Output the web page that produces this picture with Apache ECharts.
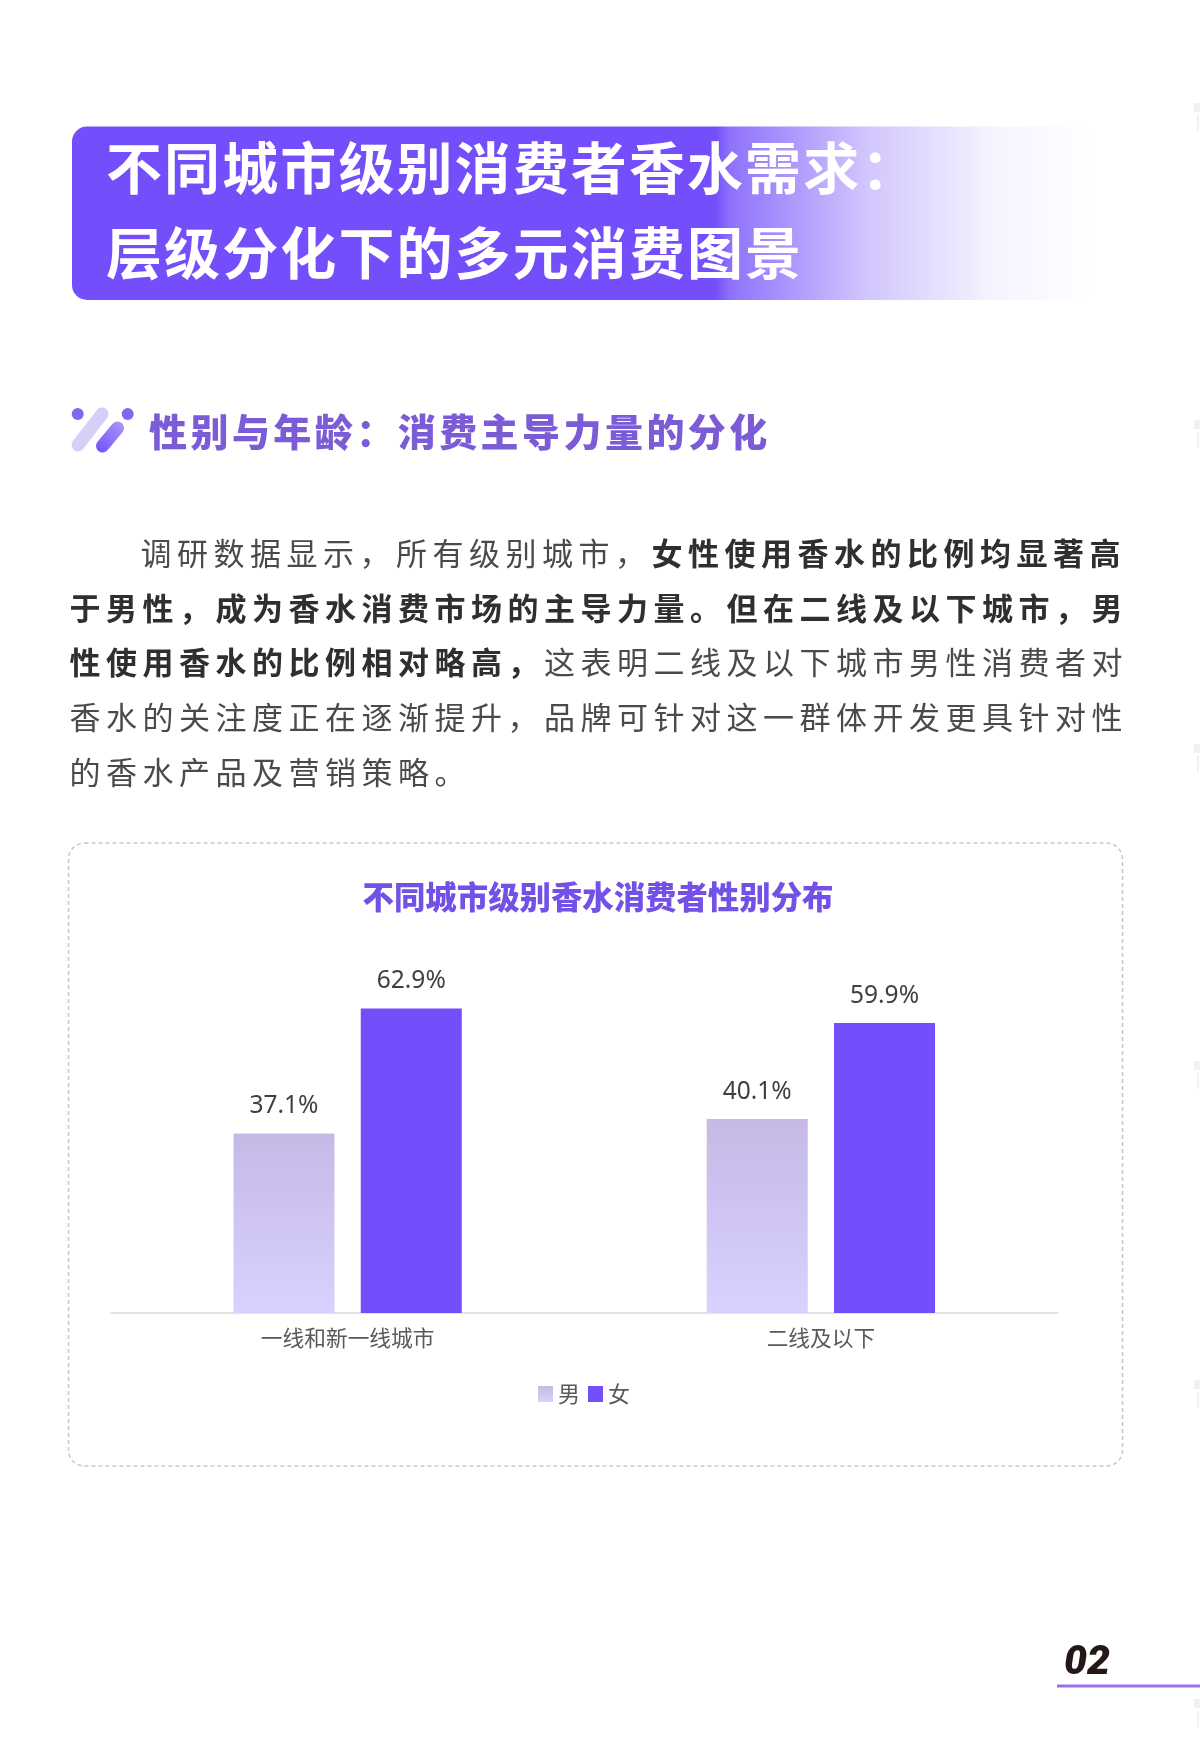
<!DOCTYPE html>
<html lang="zh">
<head>
<meta charset="utf-8">
<style>
html,body{margin:0;padding:0;background:#fff;width:1200px;height:1755px;overflow:hidden}
#chart{position:absolute;left:0;top:0;width:1200px;height:1755px}
.t{position:absolute;white-space:nowrap;font-family:"Noto Sans CJK SC","Noto Sans",sans-serif}
.h1{left:106px;font-size:56px;font-weight:700;color:#fff;letter-spacing:2.1px;line-height:70px}
.h2{left:149px;top:402px;font-size:38px;font-weight:900;color:#7b5bd6;letter-spacing:3.45px;line-height:56px}
.p{left:69.5px;font-size:31px;font-weight:400;color:#4a4a4a;letter-spacing:5.5px;line-height:54px}
.p b{font-weight:700;color:#2f2f2f}
.num{left:1064px;top:1630px;font-family:Roboto,sans-serif;font-style:italic;font-weight:900;font-size:41px;line-height:60px;color:#231815}
</style>
</head>
<body>
<div id="chart"></div>
<div class="t h1" style="top:130px">不同城市级别消费者香水需求：</div>
<div class="t h1" style="top:215px">层级分化下的多元消费图景</div>
<div class="t h2">性别与年龄：消费主导力量的分化</div>
<div class="t p" style="top:525px;left:140.5px">调研数据显示，所有级别城市，<b>女性使用香水的比例均显著高</b></div>
<div class="t p" style="top:580px"><b>于男性，成为香水消费市场的主导力量。但在二线及以下城市，男</b></div>
<div class="t p" style="top:634px"><b>性使用香水的比例相对略高，</b>这表明二线及以下城市男性消费者对</div>
<div class="t p" style="top:689px">香水的关注度正在逐渐提升，品牌可针对这一群体开发更具针对性</div>
<div class="t p" style="top:744px">的香水产品及营销策略。</div>
<div class="t num">02</div>
<script src="https://cdn.jsdelivr.net/npm/echarts@6/dist/echarts.min.js"></script>
<script>
const chartTitle = '不同城市级别香水消费者性别分布';
const categories = ['一线和新一线城市', '二线及以下'];
const maleName = '男';
const femaleName = '女';
const maleValues = [37.1, 40.1];
const femaleValues = [62.9, 59.9];

const FONT = '"Noto Sans CJK SC","Noto Sans",sans-serif';
const PURPLE = '#734efa';
const vGrad = (top, bottom) => new echarts.graphic.LinearGradient(0, 0, 0, 1, [
  {offset: 0, color: top}, {offset: 1, color: bottom}
]);
const labelStyle = {
  show: true, position: 'top', distance: 15,
  formatter: p => p.value.toFixed(1) + '%',
  fontFamily: '"Noto Sans","Noto Sans CJK SC",sans-serif', fontSize: 24.5, color: '#404040'
};
const sideMarks = [117, 434, 758, 1075, 1394, 1713];

const chart = echarts.init(document.getElementById('chart'), null, {width: 1200, height: 1755});
chart.setOption({
  animation: false,
  backgroundColor: 'transparent',
  title: {
    text: chartTitle, left: 593, top: 876, textAlign: 'center',
    textStyle: {fontFamily: FONT, fontSize: 31.4, fontWeight: 900, color: '#7350e6'}
  },
  legend: {
    left: 533, top: 1378, itemWidth: 15, itemHeight: 16, itemGap: 8, icon: 'rect',
    data: [maleName, femaleName],
    textStyle: {fontFamily: FONT, fontSize: 22, color: '#595959'}
  },
  grid: {left: 111, right: 142.5, top: 974.2, height: 338.8, containLabel: false},
  xAxis: {
    type: 'category', data: categories,
    axisLine: {lineStyle: {color: '#e3e3e3', width: 2}},
    axisTick: {show: false},
    axisLabel: {fontFamily: FONT, fontSize: 21.7, color: '#595959', margin: 14}
  },
  yAxis: {type: 'value', min: 0, max: 70, show: false, splitLine: {show: false}},
  series: [
    {name: maleName, type: 'bar', data: maleValues, barWidth: 101, barGap: '26%',
     itemStyle: {color: vGrad('#c6b9e6', '#d9d1ff')}, label: labelStyle},
    {name: femaleName, type: 'bar', data: femaleValues, barWidth: 101,
     itemStyle: {color: PURPLE}, label: labelStyle}
  ],
  graphic: [
    {type: 'rect', z: -10, shape: {x: 72, y: 126.5, width: 1020, height: 173.5, r: 15},
     style: {fill: new echarts.graphic.LinearGradient(0, 0, 1, 0, [
       {offset: 0, color: PURPLE}, {offset: 0.63, color: PURPLE},
       {offset: 0.645, color: 'rgba(115,78,250,0.8)'}, {offset: 0.78, color: 'rgba(115,78,250,0.32)'},
       {offset: 0.9, color: 'rgba(115,78,250,0.07)'}, {offset: 1, color: 'rgba(115,78,250,0)'}
     ])}},
    {type: 'circle', shape: {cx: 77.7, cy: 414, r: 6}, style: {fill: '#8466ee'}},
    {type: 'circle', shape: {cx: 127.7, cy: 414, r: 6}, style: {fill: '#8466ee'}},
    {type: 'line', shape: {x1: 102, y1: 414, x2: 78, y2: 445},
     style: {lineWidth: 13, lineCap: 'round', stroke: '#d6cff7'}},
    {type: 'line', shape: {x1: 117.5, y1: 428, x2: 102.5, y2: 446},
     style: {lineWidth: 13, lineCap: 'round', stroke: new echarts.graphic.LinearGradient(1, 0, 0, 1, [
       {offset: 0, color: '#ae98f8'}, {offset: 1, color: PURPLE}
     ])}},
    {type: 'rect', z: -10, shape: {x: 68.5, y: 843, width: 1054, height: 623, r: 16},
     style: {fill: 'none', stroke: '#c8c8c8', lineWidth: 1.5, lineDash: [4, 3]}},
    {type: 'rect', shape: {x: 1057, y: 1684.5, width: 143, height: 3}, style: {fill: '#9d6ee8'}},
    ...sideMarks.flatMap(y => [
      {type: 'rect', shape: {x: 1194, y: y - 14, width: 6, height: 9}, style: {fill: '#f1f1f1'}},
      {type: 'rect', shape: {x: 1197, y: y - 2, width: 2, height: 16}, style: {fill: '#f1f1f1'}}
    ])
  ]
});
</script>
</body>
</html>
